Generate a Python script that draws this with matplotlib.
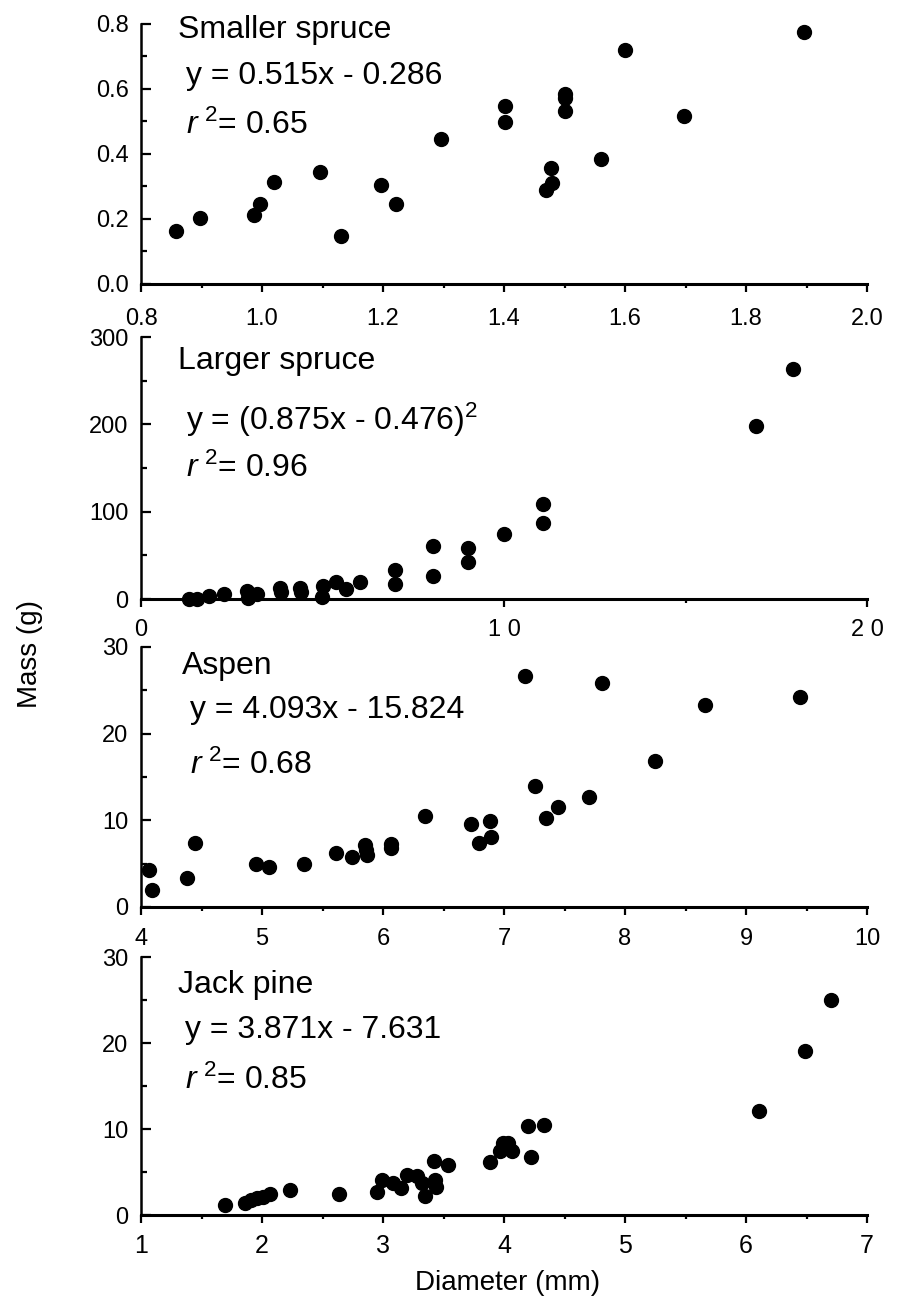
import matplotlib
matplotlib.use("Agg")
import matplotlib.pyplot as plt
from matplotlib.ticker import MultipleLocator, FormatStrFormatter

plt.rcParams['font.family'] = ['Liberation Sans', 'DejaVu Sans']
plt.rcParams['mathtext.fontset'] = 'custom'
plt.rcParams['mathtext.rm'] = 'Liberation Sans'
plt.rcParams['mathtext.it'] = 'Liberation Sans:italic'

# Smaller spruce
small_x = [0.858, 0.898, 0.987, 0.997, 1.019, 1.096, 1.130, 1.197, 1.221, 1.296,
           1.401, 1.401, 1.469, 1.479, 1.477, 1.500, 1.500, 1.500, 1.561, 1.600,
           1.698, 1.896]
small_y = [0.162, 0.203, 0.213, 0.247, 0.313, 0.346, 0.147, 0.306, 0.247, 0.446,
           0.547, 0.497, 0.290, 0.311, 0.357, 0.583, 0.572, 0.531, 0.383, 0.721,
           0.516, 0.774]

# Larger spruce
large_x = [1.32, 1.55, 1.86, 2.29, 2.92, 2.96, 3.2, 3.84, 3.87, 4.38, 4.40, 5.02,
           4.98, 5.36, 5.66, 6.02, 7.0, 7.0, 8.04, 8.04, 9.0, 9.0, 10.0, 11.07,
           11.07, 16.94, 17.95]
large_y = [0.5, 0.5, 3, 5.8, 9.6, 1, 5.8, 12.7, 8.4, 12.7, 8.4, 15.3, 2, 20, 11.5,
           19, 33.7, 17.3, 60.6, 26.8, 58.3, 42.2, 74, 108.5, 87, 198.6, 263.4]
large_ticks = [0, 10, 20]
large_labels = ["0", "1 0", "2 0"]

# Aspen
aspen_x = [4.07, 4.09, 4.38, 4.45, 4.95, 5.06, 5.35, 5.61, 5.74, 5.85, 5.86, 5.87,
           6.07, 6.07, 6.35, 6.73, 6.88, 6.79, 6.89, 7.17, 7.26, 7.35, 7.45, 7.70,
           7.81, 8.25, 8.66, 9.45]
aspen_y = [4.3, 2.0, 3.3, 7.4, 4.9, 4.6, 4.9, 6.2, 5.8, 7.2, 6.6, 6.0, 7.3, 6.8,
           10.5, 9.6, 9.9, 7.4, 8.1, 26.7, 14.0, 10.3, 11.5, 12.7, 25.8, 16.8,
           23.3, 24.2]

# Jack pine
pine_x = [1.69, 1.86, 1.91, 1.96, 2.01, 2.07, 2.23, 2.64, 2.95, 2.99, 3.08, 3.15,
          3.20, 3.28, 3.32, 3.35, 3.42, 3.43, 3.44, 3.54, 3.88, 3.99, 4.03, 3.97,
          4.07, 4.20, 4.22, 4.33, 6.11, 6.49, 6.70]
pine_y = [1.2, 1.4, 1.75, 1.95, 2.15, 2.45, 2.85, 2.4, 2.7, 4.1, 3.7, 3.1, 4.7,
          4.5, 3.7, 2.2, 6.3, 4.1, 3.3, 5.8, 6.2, 8.4, 8.4, 7.4, 7.4, 10.3, 6.8,
          10.5, 12.1, 19.1, 25.0]

panels = [
    dict(x=small_x, y=small_y, xlim=(0.8, 2.0), ylim=(0, 0.8), xmaj=0.2, xmin=0.1,
         ymaj=0.2, ymin=0.1, xfmt="%.1f", yfmt="%.1f", xpad=11, xsize=17,
         title="Smaller spruce", eq="y = 0.515x - 0.286", r2="0.65",
         pos=(0.7829, 0.1988), tpos=(0.051, 0.975, 0.062, 0.800, 0.062, 0.610)),
    dict(x=large_x, y=large_y, xlim=(0, 20), ylim=(0, 300), xmaj=10, xmin=5,
         ymaj=100, ymin=50, xfmt=None, yfmt="%d", xpad=8, xsize=17,
         title="Larger spruce", eq="y = (0.875x - 0.476)$^{2}$", r2="0.96",
         pos=(0.5420, 0.2003), tpos=(0.051, 0.910, 0.062, 0.683, 0.062, 0.498)),
    dict(x=aspen_x, y=aspen_y, xlim=(4, 10), ylim=(0, 30), xmaj=1, xmin=0.5,
         ymaj=10, ymin=5, xfmt="%d", yfmt="%d", xpad=9, xsize=17,
         title="Aspen", eq="y = 4.093x - 15.824", r2="0.68",
         pos=(0.3066, 0.1988), tpos=(0.056, 0.928, 0.068, 0.756, 0.068, 0.545)),
    dict(x=pine_x, y=pine_y, xlim=(1, 7), ylim=(0, 30), xmaj=1, xmin=0.5,
         ymaj=10, ymin=5, xfmt="%d", yfmt="%d", xpad=8, xsize=18,
         title="Jack pine", eq="y = 3.871x - 7.631", r2="0.85",
         pos=(0.0711, 0.1972), tpos=(0.051, 0.890, 0.060, 0.717, 0.060, 0.523)),
]

fig = plt.figure(figsize=(8.97, 13.08), dpi=100)

for p in panels:
    ax = fig.add_axes([0.1572, p['pos'][0], 0.8094, p['pos'][1]])
    ax.plot(p['x'], p['y'], 'o', color='black', markersize=10, clip_on=False)
    ax.set_xlim(*p['xlim'])
    ax.set_ylim(*p['ylim'])
    ax.spines['top'].set_visible(False)
    ax.spines['right'].set_visible(False)
    ax.spines['left'].set_linewidth(1.8)
    ax.spines['bottom'].set_linewidth(2.2)
    if p['xfmt']:
        ax.xaxis.set_major_locator(MultipleLocator(p['xmaj']))
        ax.xaxis.set_major_formatter(FormatStrFormatter(p['xfmt']))
    else:
        ax.set_xticks(large_ticks)
        ax.set_xticklabels(large_labels)
    ax.xaxis.set_minor_locator(MultipleLocator(p['xmin']))
    ax.yaxis.set_major_locator(MultipleLocator(p['ymaj']))
    ax.yaxis.set_minor_locator(MultipleLocator(p['ymin']))
    ax.yaxis.set_major_formatter(FormatStrFormatter(p['yfmt']))
    ax.tick_params(axis='y', which='major', direction='in', length=7, width=1.6,
                   labelsize=17, pad=9)
    ax.tick_params(axis='y', which='minor', direction='in', length=4, width=1.6)
    ax.tick_params(axis='x', which='major', direction='out', length=6, width=1.6,
                   labelsize=p['xsize'], pad=p['xpad'])
    ax.tick_params(axis='x', which='minor', direction='out', length=3, width=1.6)

    tx, ty, ex, ey, rx, ry = p['tpos']
    ax.text(tx, ty, p['title'], transform=ax.transAxes, fontsize=23, va='center')
    ax.text(ex, ey, p['eq'], transform=ax.transAxes, fontsize=23, va='center')
    ax.text(rx, ry, r"$r^{\ 2}$= " + p['r2'], transform=ax.transAxes, fontsize=23,
            va='center')

fig.text(0.034, 0.5, "Mass (g)", rotation=90, fontsize=20, ha='center', va='center')
fig.text(0.566, 0.019, "Diameter (mm)", fontsize=20, ha='center', va='center')

fig.savefig("out.png", dpi=100)
